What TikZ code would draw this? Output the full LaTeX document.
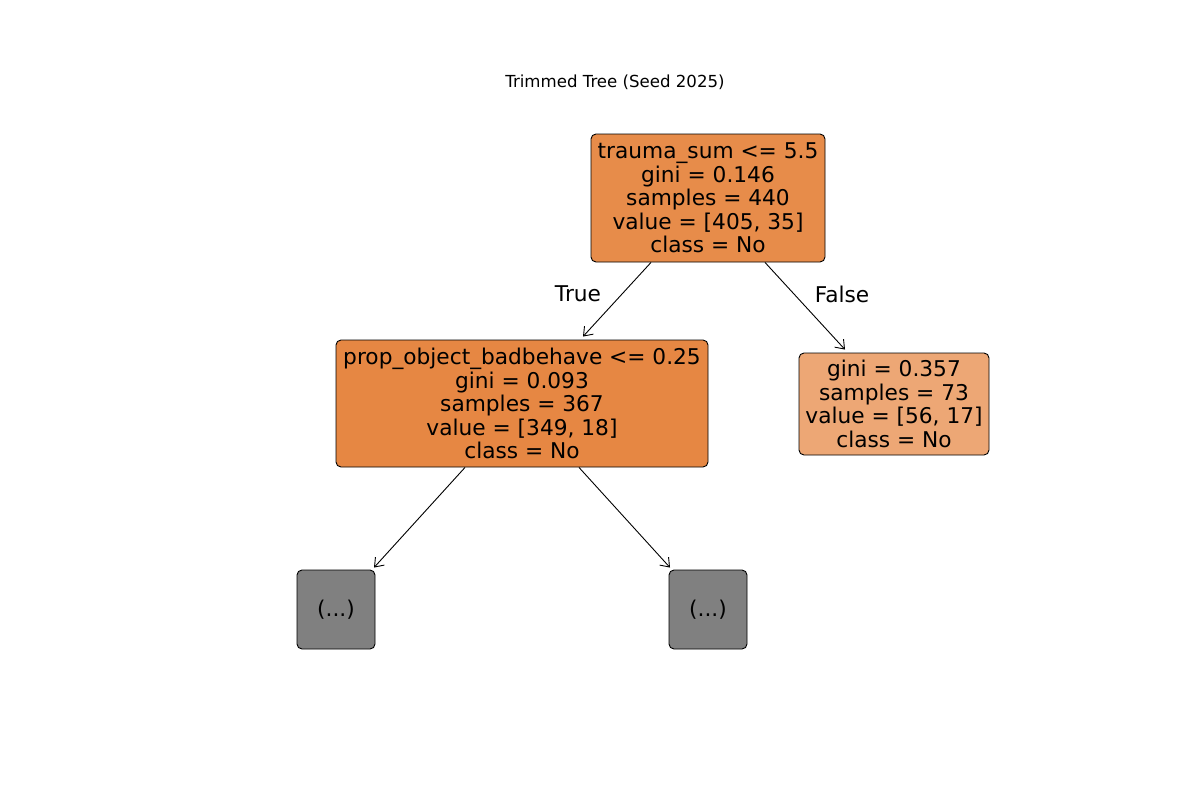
\documentclass[tikz,border=0pt]{standalone}
\usepackage{fontspec}
\setmainfont{DejaVu Sans}
\usetikzlibrary{arrows.meta,calc}
\definecolor{rootc}{HTML}{E78C4A}
\definecolor{leftc}{HTML}{E68743}
\definecolor{rightc}{HTML}{EDA775}
\definecolor{grayc}{HTML}{808080}
\tikzset{
  treenode/.style={draw=black, line width=0.9pt, rounded corners=5pt, align=center,
    inner sep=0pt, font=\fontsize{21.7}{23.5}\selectfont},
  edge/.style={line width=0.9pt, -{Straight Barb[length=8pt,width=12pt,line width=0.9pt]}},
  edgelabel/.style={font=\fontsize{21.7}{24}\selectfont}
}
\begin{document}
\begin{tikzpicture}[x=1pt,y=-1pt]
\useasboundingbox (0,0) rectangle (1200,800);
\node[font=\fontsize{16.6}{19}\selectfont] (title) at (615,82) {Trimmed Tree (Seed 2025)};
\node[treenode, fill=rootc, minimum width=234pt, minimum height=128pt] (root) at (708,198)
  {trauma\_sum <= 5.5\\gini = 0.146\\samples = 440\\value = [405, 35]\\class = No};
\node[treenode, fill=leftc, minimum width=372pt, minimum height=127pt] (left) at (522,403.5)
  {prop\_object\_badbehave <= 0.25\\gini = 0.093\\samples = 367\\value = [349, 18]\\class = No};
\node[treenode, fill=rightc, minimum width=190pt, minimum height=102pt] (right) at (894,404)
  {gini = 0.357\\samples = 73\\value = [56, 17]\\class = No};
\node[treenode, fill=grayc, minimum width=78pt, minimum height=79pt] (g1) at (336,609.5) {(...)};
\node[treenode, fill=grayc, minimum width=78pt, minimum height=79pt] (g2) at (708,609.5) {(...)};
\draw[edge] ([xshift=-57pt]root.south) -- ([xshift=61pt,yshift=3pt]left.north);
\draw[edge] ([xshift=57pt]root.south) -- ([xshift=-49pt,yshift=3pt]right.north);
\draw[edge] ([xshift=-57pt]left.south) -- ([xshift=38pt,yshift=2pt]g1.north);
\draw[edge] ([xshift=57pt]left.south) -- ([xshift=-38pt,yshift=2pt]g2.north);
\node[edgelabel] (t) at (578,294) {True};
\node[edgelabel] (f) at (842,294) {False};
\end{tikzpicture}
\end{document}
